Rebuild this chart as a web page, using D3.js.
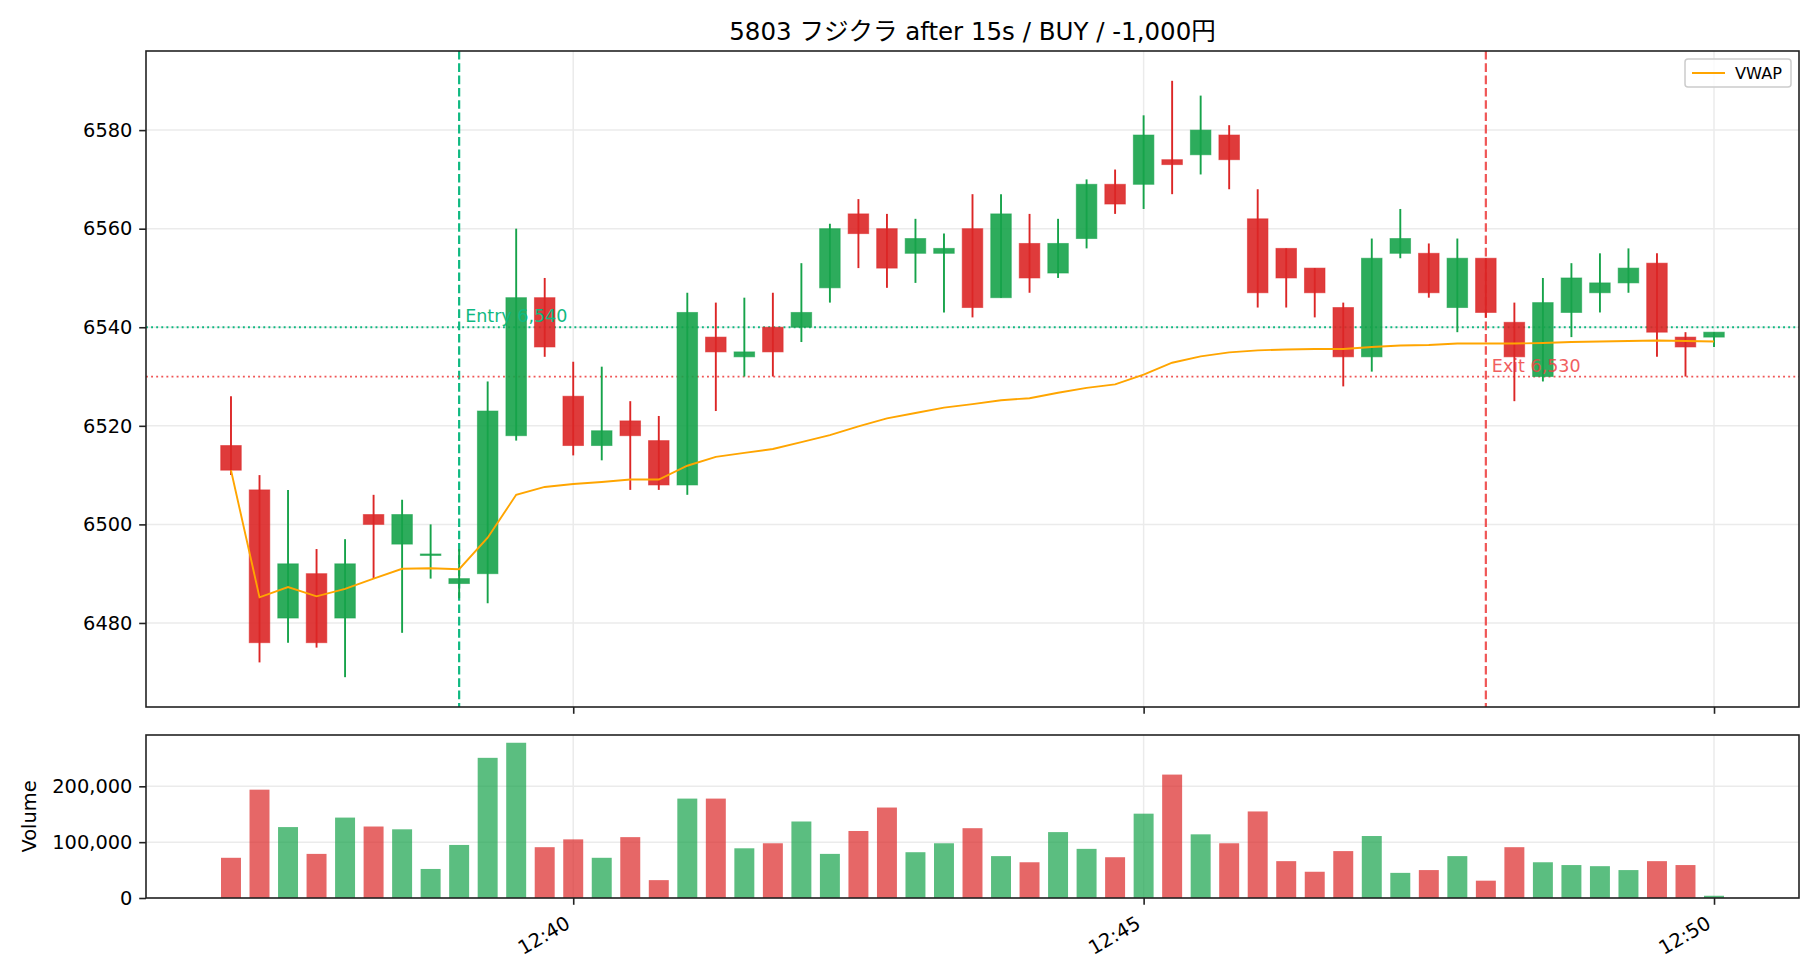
<!DOCTYPE html>
<html>
<head>
<meta charset="utf-8">
<script src="https://cdn.jsdelivr.net/npm/d3@7"></script>
<style>
  body { margin: 0; background: #fff; }
  svg { display: block; }
  text { font-family: "DejaVu Sans", "Noto Sans CJK JP", sans-serif; fill: #000; }
</style>
</head>
<body>
<svg id="chart" width="1820" height="980"></svg>
<script>
// 15 second bars, 12:37:00 .. 12:50:00
let times = ['12:37:00','12:37:15','12:37:30','12:37:45','12:38:00','12:38:15','12:38:30','12:38:45',
             '12:39:00','12:39:15','12:39:30','12:39:45','12:40:00','12:40:15','12:40:30','12:40:45',
             '12:41:00','12:41:15','12:41:30','12:41:45','12:42:00','12:42:15','12:42:30','12:42:45',
             '12:43:00','12:43:15','12:43:30','12:43:45','12:44:00','12:44:15','12:44:30','12:44:45',
             '12:45:00','12:45:15','12:45:30','12:45:45','12:46:00','12:46:15','12:46:30','12:46:45',
             '12:47:00','12:47:15','12:47:30','12:47:45','12:48:00','12:48:15','12:48:30','12:48:45',
             '12:49:00','12:49:15','12:49:30','12:49:45','12:50:00']

let opens  = [6516,6507,6481,6490,6481,6502,6496,6494,6488,6490,6518,6546,6526,6516,6521,6517,6508,6538,6534,6540,6540,6548,6563,6560,6555,6555,6560,
              6546,6557,6551,6558,6569,6569,6574,6575,6579,6562,6556,6552,6544,6534,6555,6555,6544,6554,6541,6530,6543,6547,6549,6553,6538,6538]
let highs  = [6526,6510,6507,6495,6497,6506,6505,6500,6495,6529,6560,6550,6533,6532,6525,6522,6547,6545,6546,6547,6553,6561,6566,6563,6562,6559,6567,
              6567,6563,6562,6570,6572,6583,6590,6587,6581,6568,6556,6552,6545,6558,6564,6557,6558,6554,6545,6550,6553,6555,6556,6555,6539,6539]
let lows   = [6510,6472,6476,6475,6469,6489,6478,6489,6485,6484,6517,6534,6514,6513,6507,6507,6506,6523,6530,6530,6537,6545,6552,6548,6549,6543,6542,
              6546,6547,6550,6556,6563,6564,6567,6571,6568,6544,6544,6542,6528,6531,6554,6546,6539,6542,6525,6529,6538,6543,6547,6534,6530,6536]
let closes = [6511,6476,6492,6476,6492,6500,6502,6494,6489,6523,6546,6536,6516,6519,6518,6508,6543,6535,6535,6535,6543,6560,6559,6552,6558,6556,6544,
              6563,6550,6557,6569,6565,6579,6573,6580,6574,6547,6550,6547,6534,6554,6558,6547,6554,6543,6534,6545,6550,6549,6552,6539,6536,6539]

let volumes = [72000,194000,127000,79000,144000,128000,123000,52000,95000,251000,278000,91000,105000,72000,109000,32000,178000,178000,
               89000,98000,137000,79000,120000,162000,82000,98000,125000,75000,64000,118000,88000,73000,151000,221000,114000,98000,
               155000,66000,47000,84000,111000,45000,50000,75000,31000,91000,64000,59000,57000,50000,66000,59000,4000]

let vwap = [6511,6485.2,6487.3,6485.4,6486.9,6489.0,6491.0,6491.1,6490.9,6497.3,6506.0,6507.6,6508.2,
            6508.6,6509.1,6509.1,6511.9,6513.7,6514.5,6515.3,6516.7,6518.1,6519.9,6521.5,6522.6,6523.7,6524.4,
            6525.2,6525.6,6526.7,6527.7,6528.4,6530.4,6532.8,6534.1,6534.9,6535.3,6535.5,6535.6,6535.6,
            6536.0,6536.3,6536.4,6536.7,6536.7,6536.7,6536.8,6537.0,6537.1,6537.2,6537.3,6537.2,6537.1]

let priceTicks = [6480, 6500, 6520, 6540, 6560, 6580]
let volumeTicks = [0, 100000, 200000]
let timeTicks = ['12:40', '12:45', '12:50']

let entryTime = '12:39:00'
let entryPrice = 6540
let exitTime = '12:48:00'
let exitPrice = 6530
let titleText = '5803 フジクラ after 15s / BUY / -1,000円'

let green = '#16a34a'
let red = '#dc2626'
let entryColor = '#10b981'
let exitColor = '#ef4444'

let svg = d3.select('#chart')

let parseT = d3.timeParse('%H:%M:%S')
let parseHM = d3.timeParse('%H:%M')
let tms = times.map(parseT)

let left = 146, right = 1799
let main = {top: 51, bottom: 707}
let vol = {top: 735, bottom: 898}

let pad = 44.7 * 1000
let xScale = d3.scaleTime()
    .domain([new Date(tms[0].getTime() - pad), new Date(tms[tms.length - 1].getTime() + pad)])
    .range([left, right])

let pMin = d3.min(lows), pMax = d3.max(highs)
let pm = (pMax - pMin) * 0.05
let yScale = d3.scaleLinear().domain([pMin - pm, pMax + pm]).range([main.bottom, main.top])
let vScale = d3.scaleLinear().domain([0, d3.max(volumes) * 1.05]).range([vol.bottom, vol.top])

let step = xScale(tms[1]) - xScale(tms[0])
let tickDates = timeTicks.map(parseHM)

// ---------- grids ----------
let gridColor = '#ebebeb'
let grid = svg.append('g')
grid.selectAll('.gy').data(priceTicks).enter().append('line')
    .attr('x1', left).attr('x2', right)
    .attr('y1', d => yScale(d)).attr('y2', d => yScale(d))
    .attr('stroke', gridColor).attr('stroke-width', 1.5)
grid.selectAll('.gv').data(volumeTicks).enter().append('line')
    .attr('x1', left).attr('x2', right)
    .attr('y1', d => vScale(d)).attr('y2', d => vScale(d))
    .attr('stroke', gridColor).attr('stroke-width', 1.5)
grid.selectAll('.gxm').data(tickDates).enter().append('line')
    .attr('x1', d => xScale(d)).attr('x2', d => xScale(d))
    .attr('y1', main.top).attr('y2', main.bottom)
    .attr('stroke', gridColor).attr('stroke-width', 1.5)
grid.selectAll('.gxv').data(tickDates).enter().append('line')
    .attr('x1', d => xScale(d)).attr('x2', d => xScale(d))
    .attr('y1', vol.top).attr('y2', vol.bottom)
    .attr('stroke', gridColor).attr('stroke-width', 1.5)

// ---------- entry / exit lines ----------
let lines = svg.append('g')
lines.append('line')
    .attr('x1', xScale(parseT(entryTime))).attr('x2', xScale(parseT(entryTime)))
    .attr('y1', main.top).attr('y2', main.bottom)
    .attr('stroke', entryColor).attr('stroke-width', 2.2).attr('stroke-dasharray', '8.6,3.7')
lines.append('line')
    .attr('x1', xScale(parseT(exitTime))).attr('x2', xScale(parseT(exitTime)))
    .attr('y1', main.top).attr('y2', main.bottom)
    .attr('stroke', exitColor).attr('stroke-width', 2.2).attr('stroke-dasharray', '8.6,3.7').attr('opacity', 0.9)
lines.append('line')
    .attr('x1', left).attr('x2', right)
    .attr('y1', yScale(entryPrice)).attr('y2', yScale(entryPrice))
    .attr('stroke', entryColor).attr('stroke-width', 1.8).attr('stroke-dasharray', '1.9,3.2')
lines.append('line')
    .attr('x1', left).attr('x2', right)
    .attr('y1', yScale(exitPrice)).attr('y2', yScale(exitPrice))
    .attr('stroke', exitColor).attr('stroke-width', 1.8).attr('stroke-dasharray', '1.9,3.2').attr('opacity', 0.9)

// ---------- candles ----------
let idx = d3.range(times.length)
let candles = svg.append('g').selectAll('g').data(idx).enter().append('g')
let colorOf = i => closes[i] >= opens[i] ? green : red

candles.append('line')
    .attr('x1', i => xScale(tms[i])).attr('x2', i => xScale(tms[i]))
    .attr('y1', i => yScale(highs[i])).attr('y2', i => yScale(lows[i]))
    .attr('stroke', colorOf).attr('stroke-width', 1.9)

let bodyW = step * 0.72
candles.append('rect')
    .attr('x', i => xScale(tms[i]) - bodyW / 2)
    .attr('width', bodyW)
    .attr('y', i => yScale(Math.max(opens[i], closes[i])))
    .attr('height', i => Math.max(yScale(Math.min(opens[i], closes[i])) - yScale(Math.max(opens[i], closes[i])), 1.5))
    .attr('fill', colorOf).attr('fill-opacity', 0.9)
    .attr('stroke', colorOf).attr('stroke-opacity', 0.55).attr('stroke-width', 1)

// ---------- vwap ----------
svg.append('path')
    .datum(idx)
    .attr('d', d3.line().x(i => xScale(tms[i])).y(i => yScale(vwap[i])))
    .attr('fill', 'none').attr('stroke', 'orange').attr('stroke-width', 1.9)

// labels for entry / exit
svg.append('text')
    .attr('x', xScale(parseT(entryTime)) + 6).attr('y', yScale(entryPrice) - 5)
    .style('font-size', '17.5px').style('fill', entryColor)
    .text('Entry ' + d3.format(',')(entryPrice))
svg.append('text')
    .attr('x', xScale(parseT(exitTime)) + 6).attr('y', yScale(exitPrice) - 5)
    .style('font-size', '17.5px').style('fill', exitColor).style('opacity', 0.85)
    .text('Exit ' + d3.format(',')(exitPrice))

// ---------- volume ----------
let barW = step * 0.7
svg.append('g').selectAll('rect').data(idx).enter().append('rect')
    .attr('x', i => xScale(tms[i]) - barW / 2)
    .attr('width', barW)
    .attr('y', i => vScale(volumes[i]))
    .attr('height', i => vScale(0) - vScale(volumes[i]))
    .attr('fill', colorOf).attr('fill-opacity', 0.7)

// ---------- axes ----------
let fs = '19.4px'
let axisMainY = svg.append('g').attr('transform', `translate(${left},0)`)
    .call(d3.axisLeft(yScale).tickValues(priceTicks).tickSize(6.8).tickPadding(6.8).tickFormat(d3.format('d')))
let axisVolY = svg.append('g').attr('transform', `translate(${left},0)`)
    .call(d3.axisLeft(vScale).tickValues(volumeTicks).tickSize(6.8).tickPadding(6.8).tickFormat(d3.format(',')))
let axisMainX = svg.append('g').attr('transform', `translate(0,${main.bottom})`)
    .call(d3.axisBottom(xScale).tickValues(tickDates).tickSize(6.8).tickFormat(''))
let axisVolX = svg.append('g').attr('transform', `translate(0,${vol.bottom})`)
    .call(d3.axisBottom(xScale).tickValues(tickDates).tickSize(6.8).tickFormat(d3.timeFormat('%H:%M')))

;[axisMainY, axisVolY, axisMainX, axisVolX].forEach(a => {
    a.select('.domain').remove()
    a.selectAll('line').attr('stroke', '#222').attr('stroke-width', 1.6)
    a.selectAll('text').style('font-size', fs).style('font-family', '"DejaVu Sans","Noto Sans CJK JP",sans-serif').attr('fill', '#000')
})

axisVolX.selectAll('text')
    .attr('text-anchor', 'end')
    .attr('y', 0).attr('dy', 0)
    .attr('transform', 'translate(-2.3,' + (6.8 + 6.8 + 15.6) + ') rotate(-30)')

// frames
;[main, vol].forEach(p => {
    svg.append('rect')
        .attr('x', left).attr('y', p.top)
        .attr('width', right - left).attr('height', p.bottom - p.top)
        .attr('fill', 'none').attr('stroke', '#222').attr('stroke-width', 1.6)
})

// ylabel
svg.append('text')
    .attr('transform', `translate(36,${(vol.top + vol.bottom) / 2}) rotate(-90)`)
    .attr('text-anchor', 'middle')
    .style('font-size', fs)
    .text('Volume')

// title
svg.append('text')
    .attr('x', (left + right) / 2).attr('y', 40)
    .attr('text-anchor', 'middle')
    .style('font-size', '24.5px')
    .text(titleText)

// legend
let lg = svg.append('g')
lg.append('rect')
    .attr('x', 1685).attr('y', 59).attr('width', 106).attr('height', 28).attr('rx', 3)
    .attr('fill', '#fff').attr('fill-opacity', 0.8)
    .attr('stroke', '#cccccc').attr('stroke-width', 1.5)
lg.append('line')
    .attr('x1', 1692).attr('x2', 1725).attr('y1', 73).attr('y2', 73)
    .attr('stroke', 'orange').attr('stroke-width', 1.9)
lg.append('text')
    .attr('x', 1735).attr('y', 73).attr('dy', '0.35em')
    .style('font-size', '16.2px')
    .text('VWAP')
</script>
</body>
</html>
